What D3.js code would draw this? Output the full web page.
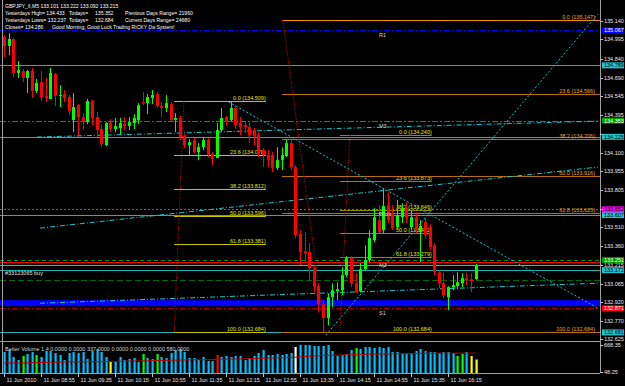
<!DOCTYPE html>
<html>
<head>
<meta charset="utf-8">
<script src="https://cdn.jsdelivr.net/npm/d3@7"></script>
<style>
body { margin: 0; background: #000; }
svg { display: block; font-family: "Liberation Sans", Arial, sans-serif; }
</style>
</head>
<body>
<svg id="chart" width="625" height="386"></svg>
<script>
// ---- data (GBPJPY M5, 11 Jun 2010 08:15 .. 16:45) ----
var opens = [135.013,134.942,134.997,134.728,134.744,134.689,134.744,134.586,134.657,134.547,
  134.523,134.720,134.547,134.562,134.539,134.357,134.475,134.381,134.341,134.507,
  134.381,134.286,134.159,134.333,134.286,134.294,134.325,134.310,134.333,134.357,
  134.499,134.491,134.531,134.562,134.468,134.452,134.483,134.357,134.373,134.230,
  134.159,134.199,134.104,134.143,134.199,134.088,134.057,134.278,134.381,134.357,
  134.452,134.333,134.317,134.302,134.278,134.238,134.120,134.081,134.081,133.978,
  134.041,134.073,134.175,133.986,133.456,133.322,133.314,133.188,133.046,132.903,
  132.793,132.959,133.006,133.014,133.133,133.267,133.069,133.006,133.180,133.251,
  133.409,133.567,133.488,133.685,133.622,133.512,133.590,133.662,133.512,133.590,
  133.472,133.551,133.512,133.369,133.156,133.069,132.959,133.038,133.046,133.069,
  133.109,133.101,133.101];
var highs = [135.028,135.044,135.005,134.823,134.760,134.752,134.768,134.681,134.744,134.689,
  134.768,134.728,134.633,134.594,134.555,134.570,134.483,134.412,134.523,134.515,
  134.420,134.317,134.341,134.365,134.373,134.373,134.381,134.381,134.404,134.491,
  134.578,134.562,134.594,134.578,134.499,134.555,134.499,134.412,134.389,134.246,
  134.207,134.215,134.175,134.215,134.215,134.104,134.333,134.452,134.389,134.499,
  134.475,134.381,134.341,134.333,134.294,134.262,134.136,134.120,134.104,134.143,
  134.143,134.199,134.199,134.001,133.488,133.472,133.385,133.211,133.069,132.935,
  132.990,133.069,133.077,133.196,133.283,133.283,133.148,133.227,133.369,133.488,
  133.662,133.685,133.820,133.788,133.685,133.725,133.701,133.709,133.646,133.630,
  133.567,133.583,133.535,133.385,133.172,133.148,133.046,133.133,133.156,133.148,
  133.148,133.148,133.222];
var lows = [134.855,134.870,134.697,134.689,134.657,134.570,134.531,134.570,134.507,134.499,
  134.523,134.468,134.460,134.499,134.396,134.262,134.230,134.278,134.325,134.317,
  134.222,134.143,134.151,134.262,134.262,134.246,134.278,134.278,134.286,134.325,
  134.475,134.404,134.483,134.452,134.381,134.420,134.341,134.262,134.199,134.136,
  134.081,134.096,134.041,134.120,134.065,134.001,134.057,134.262,134.310,134.349,
  134.286,134.238,134.254,134.175,134.159,134.065,133.986,133.986,133.946,133.962,
  133.962,134.065,133.962,133.425,133.211,133.227,133.093,132.998,132.840,132.684,
  132.738,132.880,132.935,132.975,133.117,133.038,132.990,132.998,133.172,133.235,
  133.393,133.464,133.464,133.543,133.488,133.488,133.543,133.543,133.488,133.464,
  133.235,133.425,133.330,133.133,133.030,132.951,132.856,133.014,133.022,133.038,
  133.054,132.998,133.092];
var closes = [134.942,134.997,134.728,134.752,134.689,134.744,134.586,134.649,134.539,134.531,
  134.728,134.547,134.555,134.531,134.428,134.460,134.381,134.341,134.507,134.373,
  134.278,134.167,134.333,134.286,134.310,134.333,134.310,134.341,134.373,134.475,
  134.491,134.539,134.555,134.468,134.452,134.491,134.357,134.373,134.222,134.159,
  134.183,134.104,134.143,134.199,134.081,134.049,134.278,134.373,134.341,134.452,
  134.317,134.302,134.302,134.238,134.230,134.104,134.081,134.041,133.978,134.041,
  134.081,134.175,133.986,133.448,133.314,133.306,133.188,133.038,132.903,132.793,
  132.959,133.014,133.022,133.133,133.267,133.069,132.998,133.180,133.251,133.425,
  133.590,133.472,133.678,133.567,133.504,133.607,133.662,133.583,133.590,133.488,
  133.520,133.448,133.354,133.156,133.069,132.975,133.038,133.054,133.077,133.109,
  133.093,133.085,133.215];

var volumes = [507,553,393,324,416,462,507,439,393,530, 530,485,439,324,485,507,485,507,347,530,
  576,507,393,278,278,393,324,347,370,278, 462,370,347,462,393,370,485,553,576,507,
  370,370,324,393,301,301,439,393,416,393, 416,416,324,370,416,485,553,439,439,462,
  439,462,485,622,668,668,668,645,645,645, 668,530,416,439,462,553,599,576,622,622,
  599,622,599,622,507,507,462,462,485,530, 576,530,507,507,485,507,507,485,416,462,
  507,416,337];
var volAvg = [255,256,257,258,259,260,262,264,266,268, 270,272,274,276,278,280,281,282,283,284,
  285,287,289,291,293,295,297,299,301,303, 305,307,309,311,313,315,317,319,321,323,
  325,327,329,331,333,335,337,339,341,343, 346,349,352,355,358,361,364,367,370,373,
  376,380,384,388,395,402,408,414,420,426, 430,434,437,439,442,445,448,451,454,457,
  459,461,462,464,466,468,470,472,474,476, 477,478,478,479,479,480,480,480,481,481,
  481,482,482];
var churnBars = [4, 7, 30, 33, 76, 98, 99];
var lowVolBars = [23, 101, 102];
var climaxHighBars = [46];
var climaxLowBars = [63];

var timeLabels = ['11 Jun 2010','11 Jun 08:55','11 Jun 09:35','11 Jun 10:15','11 Jun 10:55',
  '11 Jun 11:35','11 Jun 12:15','11 Jun 12:55','11 Jun 13:35','11 Jun 14:15',
  '11 Jun 14:55','11 Jun 15:35','11 Jun 16:15'];
var barsPerLabel = 8;

var priceTicks = ['135.140','134.995','134.840','134.690','134.545','134.395','134.250','134.100',
  '133.955','133.805','133.655','133.510','133.360','133.215','133.065','132.920','132.770','132.625'];

var pivotNames = ['R1', 'M3', 'Pivot', 'M2', 'S1'];
var pivotPrices = [135.067, 134.353, 133.652, 133.251, 132.871];
var levelPrices = [134.789, 134.225, 133.607, 133.172, 132.681];
var redLinePrice = 133.240;
var bidPrice = 133.215;
var orderPrice = 133.093;
var orderLabel = '#33123065 buy';
var bandPrices = [132.935, 132.888];

var fibRatios = ['0.0', '23.6', '38.2', '50.0', '61.8', '100.0'];
var fibLeftLevels = [134.509, 134.078, 133.812, 133.596, 133.381, 132.684];
var fibMidLevels = [134.240, 133.873, 133.646, 133.462, 133.279, 132.684];
var fibRightLevels = [135.147, 134.566, 134.206, 133.916, 133.625, 132.684];
// anchors in bar index units: [from, to, high anchor bar, low anchor bar]
var fibLeftBars = [36.8, 56.6, 38.9, 36.8];
var fibMidBars = [72.6, 92.5, 74.8, 72.6];
var fibRightBars = [60.1, 140, 60.3, 69.4];

// trend lines: [bar, price] -> [bar, price]
var trendStarts = [[48.6, 134.499], [69.6, 132.659], [7.8, 133.504], [7.1, 134.223], [7.8, 132.911]];
var trendEnds = [[128.4, 132.872], [128.4, 135.194], [128.4, 133.986], [128.4, 134.349], [128.4, 133.069]];

var headerLines = [
  ['GBPJPY_fi,M5  133.101 133.222 133.092 133.215'],
  ['Yesterdays High= 134.433', 'Todays=', '135.352', 'Previous Days Range= 21960'],
  ['Yesterdays Lows= 132.237', 'Todays=', '132.684', 'Current Days Range= 24680'],
  ['Closes= 134.286', 'Good Morning, Good Luck Trading RICKY Da System!']
];
var volumeLegend = 'Better Volume 1.4 0.0000 0.0000 337.0000 0.0000 0.0000 0.0000 580.0000';
var volumeAxis = [668.35, 48.25];

// ---- layout ----
var plotRight = 600, mainBottom = 341, volTop = 343, volBottom = 373;
var svg = d3.select('#chart');
var x = d3.scaleLinear().domain([0, opens.length - 1]).range([4, 475.75]);
var y = d3.scaleLinear().domain([132.684, 135.147]).range([332, 20]);
var yv = d3.scaleLinear().domain(volumeAxis.slice().reverse()).range([372, 345]);
var px = function(i){ return Math.round(x(i)); };
var fs = 5.5;

svg.append('rect').attr('width', 625).attr('height', 386).attr('fill', '#000');
svg.append('clipPath').attr('id', 'mainclip')
  .append('rect').attr('x', 0).attr('y', 0).attr('width', plotRight).attr('height', mainBottom);
var plot = svg.append('g').attr('clip-path', 'url(#mainclip)');

function hline(g, price, color, dash, w){
  g.append('line')
    .attr('x1', 0).attr('x2', plotRight)
    .attr('y1', Math.round(y(price)) + 0.5).attr('y2', Math.round(y(price)) + 0.5)
    .attr('stroke', color).attr('stroke-width', w || 1)
    .attr('stroke-dasharray', dash || null);
}

// blue band
plot.append('rect')
  .attr('x', 0).attr('width', plotRight)
  .attr('y', y(bandPrices[0])).attr('height', y(bandPrices[1]) - y(bandPrices[0]))
  .attr('fill', '#0000ff');

// solid cyan levels
levelPrices.forEach(function(p){ hline(plot, p, '#1fb0b8'); });

// pivot lines
var pivotStyle = {
  R1: {line: '#0000ff', box: '#0000ff', dash: '6,2,2,2'},
  M3: {line: '#00a000', box: '#00a000', dash: '6,2,2,2'},
  Pivot: {line: '#ff00ff', box: '#ff00ff', dash: '2,2'},
  M2: {line: '#00a000', box: '#00a000', dash: '4,3'},
  S1: {line: '#a00000', box: '#ff0000', dash: '6,2,2,2'}
};
pivotNames.forEach(function(n, k){ hline(plot, pivotPrices[k], pivotStyle[n].line, pivotStyle[n].dash); });
hline(plot, redLinePrice, '#ff0000');
hline(plot, bidPrice, '#909090');
hline(plot, orderPrice, '#006a00', '6,3');

// fibonacci retracements
function drawFib(levels, bars, lineCol, zeroCol, textCol, labelRight){
  var g = plot.append('g');
  var x0 = x(bars[0]), x1 = Math.min(x(bars[1]), plotRight);
  levels.forEach(function(p, k){
    var yy = Math.round(y(p)) + 0.5;
    g.append('line').attr('x1', x0).attr('x2', x1).attr('y1', yy).attr('y2', yy)
      .attr('stroke', k === 0 ? zeroCol : lineCol);
    g.append('text').attr('x', labelRight || x1).attr('y', yy - 1.5)
      .attr('text-anchor', 'end').attr('font-size', fs).attr('fill', textCol)
      .text(fibRatios[k] + ' (' + p.toFixed(3) + ')');
  });
  g.append('line')
    .attr('x1', x(bars[2])).attr('y1', y(levels[0]))
    .attr('x2', x(bars[3])).attr('y2', y(levels[levels.length - 1]))
    .attr('stroke', '#e00000').attr('stroke-dasharray', '1,1.5');
}
drawFib(fibLeftLevels, fibLeftBars, '#c8c800', '#c8c800', '#e6e600');
drawFib(fibMidLevels, fibMidBars, '#8c8c00', '#8c8c00', '#e6e600');
drawFib(fibRightLevels, fibRightBars, '#b8700f', '#f09000', '#f0a030', 595);

// trend lines
trendStarts.forEach(function(s, k){
  var e = trendEnds[k];
  plot.append('line')
    .attr('x1', x(s[0])).attr('y1', y(s[1]))
    .attr('x2', x(e[0])).attr('y2', y(e[1]))
    .attr('stroke', '#19c8d0').attr('stroke-dasharray', k < 2 ? '2,2' : '5,2,1,2');
});

// candles
var candles = d3.range(opens.length).map(function(i){
  return {i: i, o: opens[i], h: highs[i], l: lows[i], c: closes[i]};
});
var cg = plot.append('g');
var col = function(d){ return d.c >= d.o ? '#00ff00' : '#ff0000'; };
cg.selectAll('line.wick').data(candles).join('line')
  .attr('class', 'wick')
  .attr('x1', function(d){ return px(d.i) + 0.5; })
  .attr('x2', function(d){ return px(d.i) + 0.5; })
  .attr('y1', function(d){ return y(d.h); })
  .attr('y2', function(d){ return y(d.l); })
  .attr('stroke', col);
cg.selectAll('rect.body').data(candles).join('rect')
  .attr('class', 'body')
  .attr('x', function(d){ return px(d.i) - 1; })
  .attr('width', 3)
  .attr('y', function(d){ return y(Math.max(d.o, d.c)); })
  .attr('height', function(d){ return Math.max(1, Math.abs(y(d.o) - y(d.c))); })
  .attr('fill', col);

// pivot labels
pivotNames.forEach(function(n, k){
  plot.append('text').attr('x', 379).attr('y', y(pivotPrices[k]) + 7)
    .attr('font-size', fs).attr('fill', '#d0d0d0').text(n);
});
plot.append('text').attr('x', 5).attr('y', y(orderPrice) - 5)
  .attr('font-size', fs).attr('fill', '#e0e0e0').text(orderLabel);

// header
headerLines.forEach(function(parts, r){
  var xs = parts.length === 4 ? [5, 69, 95, 125] : [5, 52];
  parts.forEach(function(t, k){
    svg.append('text').attr('x', xs[k]).attr('y', 8 + r * 7)
      .attr('font-size', 5.1).attr('fill', '#ffffff').text(t);
  });
});

// frame
var frame = svg.append('g').attr('stroke', '#a0a0a0').attr('shape-rendering', 'crispEdges');
frame.append('line').attr('x1', 2.5).attr('x2', 2.5).attr('y1', 0).attr('y2', volBottom);
frame.append('line').attr('x1', plotRight + 0.5).attr('x2', plotRight + 0.5).attr('y1', 0).attr('y2', volBottom);
frame.append('line').attr('x1', 0).attr('x2', plotRight).attr('y1', mainBottom + 0.5).attr('y2', mainBottom + 0.5);
frame.append('line').attr('x1', 0).attr('x2', plotRight).attr('y1', volBottom + 0.5).attr('y2', volBottom + 0.5);

// price axis: grid labels hidden where a coloured price box sits on top of them
var boxPrices = levelPrices.concat(pivotPrices);
var pa = svg.append('g');
priceTicks.forEach(function(t){
  var yy = Math.round(y(+t)) + 0.5;
  pa.append('line').attr('x1', plotRight).attr('x2', plotRight + 3).attr('y1', yy).attr('y2', yy).attr('stroke', '#c0c0c0');
  var covered = boxPrices.some(function(p){ return Math.abs(y(p) - y(+t)) < 4.5; });
  if (covered) return;
  pa.append('text').attr('x', plotRight + 4).attr('y', yy).attr('dy', '0.35em')
    .attr('font-size', fs).attr('fill', '#e8e8e8').text(t);
});
function priceBox(p, bg, fg){
  var yy = y(p);
  pa.append('rect').attr('x', plotRight + 2).attr('y', yy - 3).attr('width', 22).attr('height', 6).attr('fill', bg);
  pa.append('text').attr('x', plotRight + 4).attr('y', yy).attr('dy', '0.35em')
    .attr('font-size', fs).attr('fill', fg).text(p.toFixed(3));
}
levelPrices.forEach(function(p){ priceBox(p, '#22c4cc', '#000'); });
pivotNames.forEach(function(n, k){
  priceBox(pivotPrices[k], pivotStyle[n].box, n === 'Pivot' ? '#000' : '#fff');
});

// volume panel
var vtype = function(i){
  if (climaxHighBars.indexOf(i) >= 0) return '#ff0000';
  if (climaxLowBars.indexOf(i) >= 0) return '#ffffff';
  if (churnBars.indexOf(i) >= 0) return '#00ff00';
  if (lowVolBars.indexOf(i) >= 0) return '#ffff00';
  return '#00bfff';
};
var vg = svg.append('g');
vg.selectAll('rect').data(volumes).join('rect')
  .attr('x', function(d, i){ return px(i) - 0.5; })
  .attr('width', 2.2)
  .attr('y', function(d){ return yv(d); })
  .attr('height', function(d){ return volBottom - yv(d); })
  .attr('fill', function(d, i){ return vtype(i); });
vg.append('path').datum(volAvg)
  .attr('d', d3.line().x(function(d, i){ return x(i); }).y(function(d){ return yv(d); }))
  .attr('fill', 'none').attr('stroke', '#c00000');
vg.append('text').attr('x', 5).attr('y', 351).attr('font-size', fs).attr('fill', '#d0d0d0').text(volumeLegend);
volumeAxis.forEach(function(v){
  var yy = Math.round(yv(v)) + 0.5;
  vg.append('line').attr('x1', plotRight).attr('x2', plotRight + 3).attr('y1', yy).attr('y2', yy).attr('stroke', '#c0c0c0');
  vg.append('text').attr('x', plotRight + 4).attr('y', yy).attr('dy', '0.35em')
    .attr('font-size', fs).attr('fill', '#e8e8e8').text(v.toFixed(2));
});

// time axis
var ta = svg.append('g');
timeLabels.forEach(function(t, k){
  var xx = px(k * barsPerLabel) + 0.5;
  ta.append('line').attr('x1', xx).attr('x2', xx).attr('y1', volBottom).attr('y2', volBottom + 4).attr('stroke', '#c0c0c0');
  ta.append('text').attr('x', xx + 2).attr('y', 382).attr('font-size', fs).attr('fill', '#e0e0e0').text(t);
});
</script>
</body>
</html>
